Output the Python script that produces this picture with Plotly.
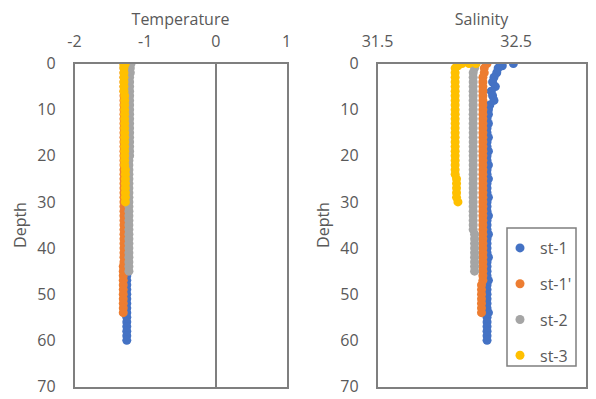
import plotly.graph_objects as go

# ---------------- data ----------------
stations = ["st-1", "st-1'", "st-2", "st-3"]
colors = ["#4472C4", "#ED7D31", "#A5A5A5", "#FFC000"]

st1_depth = [0, 0.5, 1, 2, 3, 4, 5, 6, 7, 8, 9, 10,
             11, 12, 13, 14, 15, 16, 17, 18, 19, 20,
             21, 22, 23, 24, 25, 26, 27, 28, 29, 30,
             31, 32, 33, 34, 35, 36, 37, 38, 39, 40,
             41, 42, 43, 44, 45, 46, 47, 48, 49, 50,
             51, 52, 53, 54, 55, 56, 57, 58, 59, 60]
st1_sal = [32.48, 32.40, 32.37, 32.36, 32.34, 32.33, 32.35, 32.32, 32.33, 32.34, 32.31, 32.30,
           32.30, 32.29, 32.30, 32.29, 32.29, 32.30, 32.29, 32.29, 32.30, 32.29,
           32.29, 32.30, 32.29, 32.29, 32.30, 32.29, 32.29, 32.29, 32.30, 32.29,
           32.29, 32.29, 32.30, 32.29, 32.29, 32.29, 32.30, 32.29, 32.29, 32.29,
           32.29, 32.30, 32.29, 32.29, 32.29, 32.29, 32.30, 32.29, 32.29, 32.29,
           32.29, 32.29, 32.29, 32.30, 32.29, 32.29, 32.29, 32.29, 32.29, 32.29]
st1_temp = [-1.24, -1.24, -1.24, -1.25, -1.25, -1.25, -1.25, -1.25, -1.25, -1.25, -1.25, -1.25,
            -1.25, -1.25, -1.25, -1.25, -1.25, -1.25, -1.25, -1.25, -1.25, -1.25,
            -1.25, -1.25, -1.25, -1.25, -1.25, -1.25, -1.25, -1.25, -1.25, -1.25,
            -1.25, -1.25, -1.25, -1.25, -1.25, -1.25, -1.25, -1.25, -1.25, -1.25,
            -1.25, -1.25, -1.25, -1.25, -1.26, -1.26, -1.26, -1.26, -1.26, -1.26,
            -1.26, -1.26, -1.26, -1.26, -1.26, -1.26, -1.26, -1.26, -1.26, -1.26]

st1p_depth = [0, 1, 2, 3, 4, 5, 6, 7, 8, 9, 10,
              11, 12, 13, 14, 15, 16, 17, 18, 19, 20,
              21, 22, 23, 24, 25, 26, 27, 28, 29, 30,
              31, 32, 33, 34, 35, 36, 37, 38, 39, 40,
              41, 42, 43, 44, 45, 46, 47, 48, 49, 50,
              51, 52, 53, 54]
st1p_sal = [32.29, 32.27, 32.27, 32.26, 32.26, 32.26, 32.26, 32.26, 32.26, 32.26, 32.26,
            32.26, 32.26, 32.26, 32.26, 32.26, 32.26, 32.26, 32.26, 32.26, 32.26,
            32.26, 32.26, 32.26, 32.26, 32.26, 32.26, 32.26, 32.26, 32.26, 32.26,
            32.26, 32.26, 32.26, 32.26, 32.26, 32.26, 32.26, 32.26, 32.26, 32.26,
            32.26, 32.26, 32.26, 32.26, 32.26, 32.26, 32.26, 32.25, 32.25, 32.25,
            32.25, 32.25, 32.25, 32.25]
st1p_temp = [-1.30, -1.30, -1.30, -1.30, -1.30, -1.30, -1.30, -1.30, -1.30, -1.30, -1.30,
             -1.30, -1.30, -1.30, -1.30, -1.30, -1.30, -1.30, -1.30, -1.30, -1.30,
             -1.30, -1.30, -1.30, -1.30, -1.30, -1.30, -1.30, -1.30, -1.30, -1.30,
             -1.30, -1.30, -1.30, -1.30, -1.30, -1.30, -1.30, -1.30, -1.30, -1.30,
             -1.30, -1.30, -1.30, -1.31, -1.31, -1.31, -1.31, -1.31, -1.31, -1.31,
             -1.31, -1.31, -1.31, -1.31]

st2_depth = [0, 1, 2, 3, 4, 5, 6, 7, 8, 9, 10,
             11, 12, 13, 14, 15, 16, 17, 18, 19, 20,
             21, 22, 23, 24, 25, 26, 27, 28, 29, 30,
             31, 32, 33, 34, 35, 36, 37, 38, 39, 40,
             41, 42, 43, 44, 45]
st2_sal = [32.21, 32.20, 32.19, 32.19, 32.19, 32.19, 32.19, 32.19, 32.19, 32.19, 32.19,
           32.19, 32.19, 32.19, 32.19, 32.19, 32.19, 32.19, 32.19, 32.19, 32.19,
           32.19, 32.19, 32.19, 32.19, 32.19, 32.19, 32.19, 32.19, 32.19, 32.19,
           32.19, 32.19, 32.19, 32.19, 32.19, 32.19, 32.20, 32.20, 32.20, 32.20,
           32.20, 32.20, 32.20, 32.20, 32.20]
st2_temp = [-1.20, -1.21, -1.21, -1.22, -1.22, -1.22, -1.22, -1.22, -1.22, -1.22, -1.22,
            -1.22, -1.22, -1.22, -1.22, -1.22, -1.22, -1.22, -1.22, -1.22, -1.22,
            -1.23, -1.23, -1.23, -1.23, -1.23, -1.23, -1.23, -1.23, -1.23, -1.23,
            -1.23, -1.23, -1.23, -1.23, -1.23, -1.23, -1.23, -1.23, -1.23, -1.23,
            -1.23, -1.23, -1.23, -1.23, -1.23]

st3_depth = [0, 0, 0, 0.5, 1, 2, 3, 4, 5, 6, 7, 8, 9, 10,
             11, 12, 13, 14, 15, 16, 17, 18, 19, 20,
             21, 22, 23, 24, 25, 26, 27, 28, 29, 30]
st3_sal = [32.21, 32.16, 32.11, 32.08, 32.06, 32.06, 32.06, 32.06, 32.06, 32.06, 32.06, 32.06, 32.06, 32.06,
           32.06, 32.06, 32.06, 32.06, 32.06, 32.06, 32.06, 32.06, 32.06, 32.06,
           32.06, 32.06, 32.06, 32.06, 32.07, 32.07, 32.07, 32.07, 32.07, 32.08]
st3_temp = [-1.28, -1.29, -1.30, -1.30, -1.30, -1.30, -1.30, -1.30, -1.30, -1.30, -1.29, -1.29, -1.29, -1.29,
            -1.29, -1.29, -1.29, -1.29, -1.29, -1.29, -1.29, -1.29, -1.29, -1.29,
            -1.29, -1.29, -1.28, -1.28, -1.28, -1.28, -1.28, -1.28, -1.28, -1.28]

depths = [st1_depth, st1p_depth, st2_depth, st3_depth]
temps = [st1_temp, st1p_temp, st2_temp, st3_temp]
sals = [st1_sal, st1p_sal, st2_sal, st3_sal]

temp_ticks = [-2, -1, 0, 1]
temp_labels = ["-2", "-1", "0", "1"]
sal_ticks = [31.5, 32.5]
sal_labels = ["31.5", "32.5"]
depth_ticks = [0, 10, 20, 30, 40, 50, 60, 70]

# ---------------- figure ----------------
W, H = 596, 399
FONT = "Open Sans"
GREY_TXT = "#595959"
FRAME = "#7f7f7f"

fig = go.Figure()
for i, name in enumerate(stations):
    fig.add_trace(go.Scatter(
        x=temps[i], y=depths[i], mode="markers", name=name,
        legendgroup=name, showlegend=False,
        marker=dict(color=colors[i], size=9, line=dict(width=0)),
        xaxis="x", yaxis="y"))
for i, name in enumerate(stations):
    fig.add_trace(go.Scatter(
        x=sals[i], y=depths[i], mode="markers", name=name,
        legendgroup=name, showlegend=True,
        marker=dict(color=colors[i], size=9, line=dict(width=0)),
        xaxis="x2", yaxis="y2"))


def px_x(p):
    return p / W


def px_y(p):
    return 1 - p / H


ydom = [px_y(386.5), px_y(63.5)]

common_x = dict(side="top", showgrid=False, showline=True, mirror=True, automargin=False,
                linecolor=FRAME, linewidth=1.5, ticks="", ticklabelstandoff=8,
                tickfont=dict(size=16, color=GREY_TXT, family=FONT),
                title_font=dict(size=16, color=GREY_TXT, family=FONT),
                title_standoff=0)
common_y = dict(showgrid=False, showline=True, mirror=True, zeroline=False, automargin=False,
                linecolor=FRAME, linewidth=1.5, ticks="", ticklabelstandoff=14,
                range=[70, 0], tickvals=depth_ticks, domain=ydom,
                tickfont=dict(size=16, color=GREY_TXT, family=FONT),
                title_font=dict(size=16, color=GREY_TXT, family=FONT),
                title_text="Depth", title_standoff=7)

fig.update_layout(
    width=W, height=H,
    margin=dict(l=0, r=0, t=0, b=0, autoexpand=False),
    paper_bgcolor="white", plot_bgcolor="white",
    font=dict(family=FONT, color=GREY_TXT, size=16),
    xaxis=dict(domain=[px_x(74.5), px_x(286.5)], range=[-2, 1],
               tickvals=temp_ticks, ticktext=temp_labels,
               zeroline=True, zerolinecolor=FRAME, zerolinewidth=1.5,
               title_text="Temperature", anchor="y", **common_x),
    xaxis2=dict(domain=[px_x(377.5), px_x(585.5)], range=[31.5, 33],
                tickvals=sal_ticks, ticktext=sal_labels,
                zeroline=False, title_text="Salinity", anchor="y2", **common_x),
    yaxis=dict(anchor="x", **common_y),
    yaxis2=dict(anchor="x2", **common_y),
    legend=dict(x=px_x(500), y=px_y(231), xanchor="left", yanchor="top",
                borderwidth=0, bgcolor="rgba(0,0,0,0)",
                font=dict(size=16, color=GREY_TXT, family=FONT),
                tracegroupgap=12, itemwidth=30),
    shapes=[dict(type="rect", xref="paper", yref="paper",
                 x0=px_x(507), x1=px_x(576), y0=px_y(366), y1=px_y(228),
                 line=dict(color=FRAME, width=1.5), fillcolor="white", layer="above")],
    showlegend=True,
)

fig.write_html("out.html", config={"displayModeBar": False},
               post_script="document.body.style.margin='0px';document.body.style.padding='0px';")
